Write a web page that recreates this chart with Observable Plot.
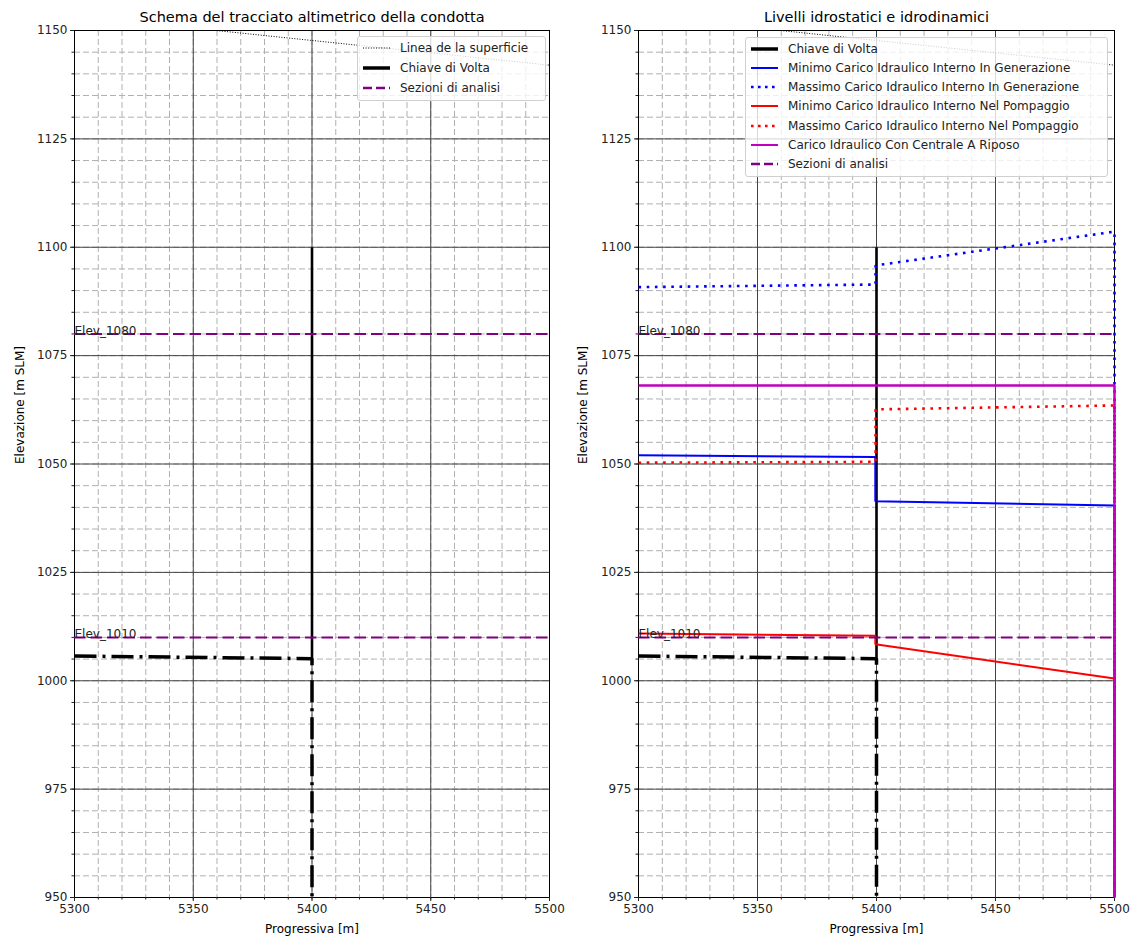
<!DOCTYPE html>
<html>
<head>
<meta charset="utf-8">
<script src="https://cdn.jsdelivr.net/npm/d3@7"></script>
<script src="https://cdn.jsdelivr.net/npm/@observablehq/plot@0.6"></script>
<style>
  html, body { margin: 0; padding: 0; background: #fff; }
  #wrap { position: relative; width: 1140px; height: 942px; display: flex; font-family: "DejaVu Sans", sans-serif; }
  .legend { position: absolute; background: rgba(255,255,255,0.8); border: 1px solid #d0d0d0; border-radius: 3px; box-sizing: border-box; font-size: 12px; color: #222; }
  .legend .row { position: absolute; left: 0; height: 16px; display: flex; align-items: center; white-space: nowrap; }
  .legend svg { margin-left: 5px; margin-right: 10px; }
</style>
</head>
<body>
<div id="wrap"></div>
<script>
// ---------- data ----------
const xTicks = [5300, 5350, 5400, 5450, 5500];
const yTicks = [950, 975, 1000, 1025, 1050, 1075, 1100, 1125, 1150];
const xMinor = d3.range(5300, 5501, 10);
const yMinor = d3.range(950, 1151, 5);

const surfaceX = [5300, 5500];
const surfaceY = [1153.4, 1142.0];

const crownX = [5300, 5400, 5400];
const crownY = [1005.7, 1005.1, 950];

const shaftX = [5400, 5400];
const shaftY = [1100, 1005.1];

const sectionElev = [1080, 1010];
const sectionX = [5300, 5300];
const sectionLabels = ["Elev_1080", "Elev_1010"];

const minGenX = [5300, 5399.5, 5399.5, 5500, 5500];
const minGenY = [1052.0, 1051.6, 1041.4, 1040.4, 950];

const maxGenX = [5300, 5399.6, 5399.6, 5500, 5500];
const maxGenY = [1090.8, 1091.4, 1095.8, 1103.6, 950];

const minPompX = [5300, 5399.5, 5399.5, 5500, 5500];
const minPompY = [1010.9, 1010.4, 1008.4, 1000.5, 950];

const maxPompX = [5300, 5399.6, 5399.6, 5500, 5500];
const maxPompY = [1050.3, 1050.5, 1062.6, 1063.5, 950];

const restX = [5300, 5500, 5500];
const restY = [1068.1, 1068.1, 950];

const titles = ["Schema del tracciato altimetrico della condotta", "Livelli idrostatici e idrodinamici"];
const xLabel = "Progressiva [m]";
const yLabel = "Elevazione [m SLM]";

// ---------- helpers ----------
const pts = (xs, ys) => xs.map((x, i) => ({x, y: ys[i]}));
const sections = sectionElev.map((y, i) => ({x: sectionX[i], y, label: sectionLabels[i]}));

const PURPLE = "#800080";
const BLUE = "#0000ff";
const RED = "#ff0000";
const MAGENTA = "#bf00bf";
const DASHDOT = "22,6,3,6";
const DASHED = "11.5,5";
const DOTTED = "2.6,5.6";
const butt = {strokeLinecap: "butt", strokeLinejoin: "miter"};

function base(title, marginLeft, marginRight, extra) {
  return Plot.plot({
    width: 570,
    height: 942,
    marginLeft, marginRight,
    marginTop: 30,
    marginBottom: 45,
    style: {fontFamily: "DejaVu Sans", fontSize: "12px", background: "white", color: "#222", overflow: "visible"},
    x: {domain: [5300, 5500]},
    y: {domain: [950, 1150]},
    marks: [
      Plot.ruleX(xMinor, {stroke: "#b0b0b0", strokeWidth: 1, strokeDasharray: "6,3", ...butt}),
      Plot.ruleY(yMinor, {stroke: "#b0b0b0", strokeWidth: 1, strokeDasharray: "6,3", ...butt}),
      Plot.ruleX(xTicks, {stroke: "#444", strokeWidth: 1}),
      Plot.ruleY(yTicks, {stroke: "#444", strokeWidth: 1}),
      Plot.frame({stroke: "#000", strokeWidth: 1}),
      Plot.axisX(xMinor, {anchor: "bottom", tickSize: 2.5, tickFormat: () => "", label: null}),
      Plot.axisY(yMinor, {anchor: "left", tickSize: 2.5, tickFormat: () => "", label: null}),
      Plot.axisX(xTicks, {anchor: "bottom", tickSize: 4, tickPadding: 3, fontSize: 12, label: null, tickFormat: d => String(d)}),
      Plot.axisY(yTicks, {anchor: "left", tickSize: 4, tickPadding: 3, fontSize: 12, label: null, tickFormat: d => String(d)}),
      Plot.line(pts(surfaceX, surfaceY), {x: "x", y: "y", stroke: "#000", strokeWidth: 1, strokeDasharray: "1,1.6", clip: true, ...butt}),
      Plot.line(pts(shaftX, shaftY), {x: "x", y: "y", stroke: "#000", strokeWidth: 2.6, ...butt}),
      Plot.line(pts(crownX, crownY), {x: "x", y: "y", stroke: "#000", strokeWidth: 3.5, strokeDasharray: DASHDOT, ...butt}),
      ...extra,
      Plot.ruleY(sections, {y: "y", stroke: PURPLE, strokeWidth: 2, strokeDasharray: DASHED, ...butt}),
      Plot.text(sections, {x: "x", y: "y", text: "label", textAnchor: "start", lineAnchor: "bottom", dy: 1, fontSize: 12, fill: "#222"}),
      Plot.text([title], {frameAnchor: "top", dy: -13, fontSize: 14.5, fill: "#000", lineAnchor: "middle"}),
      Plot.text([xLabel], {frameAnchor: "bottom", dy: 35, fontSize: 12, fill: "#000"}),
      Plot.text([yLabel], {frameAnchor: "left", dx: marginLeft === 74 ? -54 : -55, rotate: -90, fontSize: 12, fill: "#000"})
    ]
  });
}

const left = base(titles[0], 74, 21, []);
const right = base(titles[1], 68, 26, [
  Plot.line(pts(minGenX, minGenY), {x: "x", y: "y", stroke: BLUE, strokeWidth: 2, ...butt}),
  Plot.line(pts(maxGenX, maxGenY), {x: "x", y: "y", stroke: BLUE, strokeWidth: 2.6, strokeDasharray: DOTTED, ...butt}),
  Plot.line(pts(minPompX, minPompY), {x: "x", y: "y", stroke: RED, strokeWidth: 2, ...butt}),
  Plot.line(pts(maxPompX, maxPompY), {x: "x", y: "y", stroke: RED, strokeWidth: 2.6, strokeDasharray: DOTTED, ...butt}),
  Plot.line(pts(restX, restY), {x: "x", y: "y", stroke: MAGENTA, strokeWidth: 2.5, ...butt})
]);

const wrap = document.getElementById("wrap");
wrap.appendChild(left);
wrap.appendChild(right);

// ---------- legends ----------
const leftLegend = [
  {label: "Linea de la superficie", stroke: "#000", w: 1, dash: "1,1.6"},
  {label: "Chiave di Volta", stroke: "#000", w: 3.5, dash: null},
  {label: "Sezioni di analisi", stroke: PURPLE, w: 2.5, dash: "9,4"}
];
const rightLegend = [
  {label: "Chiave di Volta", stroke: "#000", w: 3.5, dash: null},
  {label: "Minimo Carico Idraulico Interno In Generazione", stroke: BLUE, w: 2, dash: null},
  {label: "Massimo Carico Idraulico Interno In Generazione", stroke: BLUE, w: 2.6, dash: "2.6,4.4"},
  {label: "Minimo Carico Idraulico Interno Nel Pompaggio", stroke: RED, w: 2, dash: null},
  {label: "Massimo Carico Idraulico Interno Nel Pompaggio", stroke: RED, w: 2.6, dash: "2.6,4.4"},
  {label: "Carico Idraulico Con Centrale A Riposo", stroke: MAGENTA, w: 2, dash: null},
  {label: "Sezioni di analisi", stroke: PURPLE, w: 2.5, dash: "9,4"}
];

function legend(items, left, top, width, height, rowTop, rowStep) {
  const box = document.createElement("div");
  box.className = "legend";
  Object.assign(box.style, {left: left + "px", top: top + "px", width: width + "px", height: height + "px"});
  items.forEach((it, i) => {
    const row = document.createElement("div");
    row.className = "row";
    row.style.top = (rowTop + i * rowStep - 8) + "px";
    row.innerHTML = `<svg width="27" height="10"><line x1="0" y1="5" x2="27" y2="5" stroke="${it.stroke}" stroke-width="${it.w}" ${it.dash ? `stroke-dasharray="${it.dash}"` : ""}/></svg><span>${it.label}</span>`;
    box.appendChild(row);
  });
  wrap.appendChild(box);
}
legend(leftLegend, 357, 36, 189, 65, 11, 20);
legend(rightLegend, 745, 37, 363, 140, 10.5, 19.3);
</script>
</body>
</html>
